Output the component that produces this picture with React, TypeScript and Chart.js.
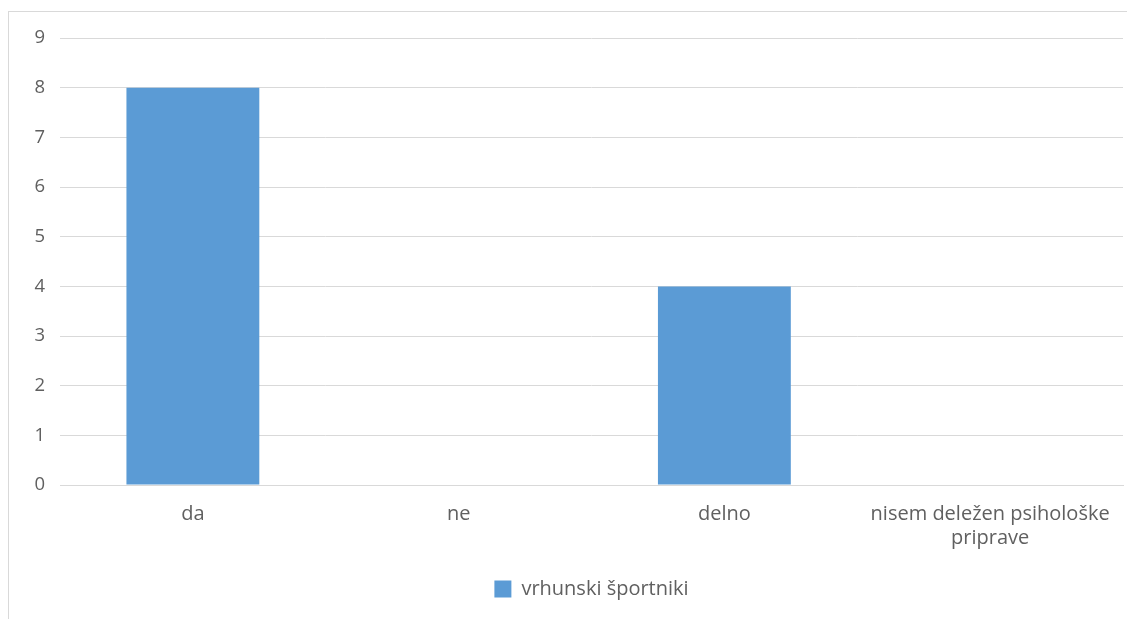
import React, { useEffect, useRef } from "react";
import { Chart, registerables } from "chart.js";

Chart.register(...registerables);

const categories: (string | string[])[] = ["da", "ne", "delno", ["nisem deležen psihološke", "priprave"]];
const seriesLabel = "vrhunski športniki";
const seriesValues = [8, 0, 4, 0];
const yMin = 0;
const yMax = 9;
const yStep = 1;

const FONT = "'Open Sans', 'Noto Sans', sans-serif";
const TEXT = "#606060";
const GRID = "#d9d9d9";
const BAR = "#5b9bd5";

export default function App() {
  const ref = useRef<HTMLCanvasElement | null>(null);
  useEffect(() => {
    if (!ref.current) return;
    const chart = new Chart(ref.current, {
      type: "bar",
      data: {
        labels: categories,
        datasets: [
          {
            label: seriesLabel,
            data: seriesValues,
            backgroundColor: BAR,
            borderWidth: 0,
            barPercentage: 1,
            categoryPercentage: 0.5,
          },
        ],
      },
      options: {
        responsive: false,
        animation: false,
        layout: { padding: { top: 23, right: 12, bottom: 10, left: 0 } },
        plugins: {
          legend: {
            position: "bottom",
            fullSize: false,
            labels: {
              boxWidth: 17,
              boxHeight: 17,
              padding: 10,
              color: TEXT,
              font: { family: FONT, size: 20 },
            },
          },
          tooltip: { enabled: false },
        },
        scales: {
          x: {
            grid: { display: false, drawTicks: false },
            border: { display: true, color: GRID, width: 1 },
            ticks: {
              color: TEXT,
              font: { family: FONT, size: 20, lineHeight: 1.2 },
              padding: 17,
              maxRotation: 0,
              autoSkip: false,
            },
            afterFit: (s: any) => {
              s.height = 84;
            },
          },
          y: {
            min: yMin,
            max: yMax,
            grid: { color: GRID, lineWidth: 1, drawTicks: false },
            border: { display: false },
            ticks: {
              stepSize: yStep,
              color: TEXT,
              font: { family: FONT, size: 18.5 },
              padding: 15,
            },
            afterFit: (s: any) => {
              s.width = 51;
            },
          },
        },
      },
    });
    return () => chart.destroy();
  }, []);

  return (
    <div style={{ paddingTop: 3 }}>
      <style>{`body{overflow:hidden}`}</style>
      <div
        style={{
          borderTop: "1px solid #d9d9d9",
          borderLeft: "1px solid #d9d9d9",
          width: 1126,
          height: 607,
        }}
      >
        <canvas ref={ref} width={1126} height={607} style={{ display: "block" }} />
      </div>
    </div>
  );
}
